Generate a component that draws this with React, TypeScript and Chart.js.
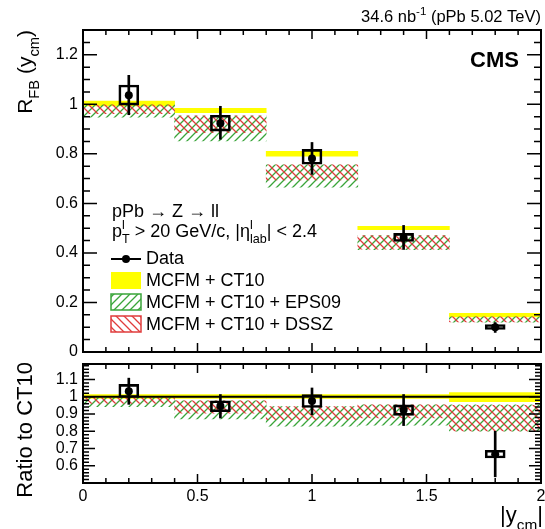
import React, { useEffect, useRef } from "react";
import { Chart, registerables } from "chart.js";
Chart.register(...registerables);

const FAMILY = "'Liberation Sans', Arial, Helvetica, sans-serif";
Chart.defaults.font.family = FAMILY;

// ---------------- data ----------------
const binCenters = [0.2, 0.6, 1.0, 1.4, 1.8];

// upper panel: R_FB
const rfbData = [1.037, 0.924, 0.781, 0.461, 0.1];
const rfbStatLo = [0.958, 0.859, 0.717, 0.414, 0.079];
const rfbStatHi = [1.117, 0.992, 0.846, 0.511, 0.119];
const rfbSysLo = [0.997, 0.892, 0.758, 0.446, 0.091];
const rfbSysHi = [1.078, 0.956, 0.818, 0.479, 0.111];
const ct10Lo = [0.993, 0.966, 0.791, 0.494, 0.142];
const ct10Hi = [1.013, 0.984, 0.81, 0.507, 0.156];
const eps09Lo = [0.948, 0.852, 0.665, 0.413, 0.12];
const eps09Hi = [0.998, 0.953, 0.756, 0.47, 0.142];
const dsszLo = [0.962, 0.885, 0.695, 0.415, 0.121];
const dsszHi = [0.998, 0.953, 0.756, 0.47, 0.142];

// lower panel: ratio to CT10
const ratioData = [1.032, 0.947, 0.976, 0.924, 0.667];
const ratioStatLo = [0.956, 0.877, 0.896, 0.833, 0.536];
const ratioStatHi = [1.108, 1.013, 1.051, 1.013, 0.8];
const ratioSysLo = [0.996, 0.913, 0.938, 0.892, 0.645];
const ratioSysHi = [1.072, 0.977, 1.013, 0.953, 0.69];
const ratioCt10Lo = [0.99, 0.99, 0.99, 0.99, 0.972];
const ratioCt10Hi = [1.012, 1.012, 1.012, 1.012, 1.025];
const ratioEps09Lo = [0.943, 0.871, 0.829, 0.835, 0.8];
const ratioEps09Hi = [0.994, 0.976, 0.943, 0.953, 0.953];
const ratioDsszLo = [0.962, 0.905, 0.867, 0.877, 0.802];
const ratioDsszHi = [0.994, 0.976, 0.943, 0.953, 0.95];
const ratioRef = 1;

// ticks
const xTicks = [0, 0.5, 1, 1.5, 2];
const topYTicks = [0, 0.2, 0.4, 0.6, 0.8, 1, 1.2];
const ratioYTicks = [0.6, 0.7, 0.8, 0.9, 1, 1.1];

const X_MIN = 0, X_MAX = 2;
const TOP_Y_MIN = 0, TOP_Y_MAX = 1.3;
const BOT_Y_MIN = 0.5, BOT_Y_MAX = 1.19;

// ---------------- styles ----------------
const YELLOW = "#ffff00";
const GREEN = "#3aa53a";
const RED = "#e03c3c";

function hatch(color: string, dir: 1 | -1): CanvasPattern | string {
  const s = 8;
  const c = document.createElement("canvas");
  c.width = s;
  c.height = s;
  const g = c.getContext("2d");
  if (!g) return color;
  g.strokeStyle = color;
  g.lineWidth = 1.3;
  g.beginPath();
  if (dir === 1) {
    g.moveTo(0, s); g.lineTo(s, 0);
    g.moveTo(-s / 2, s / 2); g.lineTo(s / 2, -s / 2);
    g.moveTo(s / 2, s + s / 2); g.lineTo(s + s / 2, s / 2);
  } else {
    g.moveTo(0, 0); g.lineTo(s, s);
    g.moveTo(-s / 2, s / 2); g.lineTo(s / 2, s + s / 2);
    g.moveTo(s / 2, -s / 2); g.lineTo(s + s / 2, s / 2);
  }
  g.stroke();
  return g.createPattern(c, "repeat") || color;
}

type Seg = { t: string; k?: "sub" | "sup"; hold?: boolean };

function drawRich(
  ctx: CanvasRenderingContext2D,
  x: number,
  y: number,
  segs: Seg[],
  size: number,
  align: "left" | "right" = "left",
  weight = "normal"
) {
  const fnt = (s: number) => `${weight} ${s}px ${FAMILY}`;
  const widths = segs.map((sg) => {
    ctx.font = fnt(sg.k ? size * 0.7 : size);
    return ctx.measureText(sg.t).width;
  });
  let cx = 0;
  let holdW = -1;
  const xs: number[] = [];
  segs.forEach((sg, i) => {
    xs.push(cx);
    if (sg.hold) holdW = widths[i];
    else if (holdW >= 0) {
      cx += Math.max(holdW, widths[i]);
      holdW = -1;
    } else cx += widths[i];
  });
  const x0 = align === "right" ? x - cx : x;
  ctx.textAlign = "left";
  ctx.textBaseline = "alphabetic";
  ctx.fillStyle = "#000";
  segs.forEach((sg, i) => {
    const s = sg.k ? size * 0.7 : size;
    ctx.font = fnt(s);
    const dy = sg.k === "sub" ? size * 0.35 : sg.k === "sup" ? -size * 0.42 : 0;
    ctx.fillText(sg.t, x0 + xs[i], y + dy);
  });
}

type FrameCfg = {
  xMajor: number; xMinor: number; yMajor: number; yMinor: number;
  xLenMaj: number; xLenMin: number; yLenMaj: number; yLenMin: number;
};

function framePlugin(id: string, cfg: FrameCfg) {
  return {
    id,
    afterDatasetsDraw(chart: any) {
      const { ctx, chartArea: a, scales } = chart;
      const xs = scales.x, ys = scales.y;
      ctx.save();
      ctx.strokeStyle = "#000";
      ctx.lineWidth = 1.5;
      ctx.beginPath();
      const isMaj = (v: number, m: number) => Math.abs(v / m - Math.round(v / m)) < 1e-6;
      const nx = Math.round((xs.max - xs.min) / cfg.xMinor);
      for (let i = 0; i <= nx; i++) {
        const v = xs.min + i * cfg.xMinor;
        const px = xs.getPixelForValue(v);
        const L = isMaj(v, cfg.xMajor) ? cfg.xLenMaj : cfg.xLenMin;
        ctx.moveTo(px, a.bottom); ctx.lineTo(px, a.bottom - L);
        ctx.moveTo(px, a.top); ctx.lineTo(px, a.top + L);
      }
      const start = Math.ceil(ys.min / cfg.yMinor - 1e-6) * cfg.yMinor;
      for (let v = start; v <= ys.max + 1e-9; v += cfg.yMinor) {
        const py = ys.getPixelForValue(v);
        const L = isMaj(v, cfg.yMajor) ? cfg.yLenMaj : cfg.yLenMin;
        ctx.moveTo(a.left, py); ctx.lineTo(a.left + L, py);
        ctx.moveTo(a.right, py); ctx.lineTo(a.right - L, py);
      }
      ctx.stroke();
      ctx.lineWidth = 2;
      ctx.strokeRect(a.left, a.top, a.right - a.left, a.bottom - a.top);
      ctx.restore();
    },
  };
}

const bandData = (lo: number[], hi: number[]) =>
  binCenters.map((x, i) => ({ x, y: [lo[i], hi[i]] }));
const pointData = (v: number[]) => binCenters.map((x, i) => ({ x, y: v[i] }));

function datasets(
  p: {
    data: number[]; statLo: number[]; statHi: number[]; sysLo: number[]; sysHi: number[];
    ctLo: number[]; ctHi: number[]; epLo: number[]; epHi: number[]; dsLo: number[]; dsHi: number[];
  },
  green: any,
  red: any,
  refLine: boolean
) {
  const bandCommon = {
    type: "bar" as const,
    grouped: false,
    categoryPercentage: 1,
    barPercentage: 1,
    borderWidth: 0,
  };
  const ds: any[] = [
    { ...bandCommon, label: "MCFM + CT10", data: bandData(p.ctLo, p.ctHi), backgroundColor: YELLOW, order: 10 },
    { ...bandCommon, label: "MCFM + CT10 + EPS09", data: bandData(p.epLo, p.epHi), backgroundColor: green, order: 9 },
    { ...bandCommon, label: "MCFM + CT10 + DSSZ", data: bandData(p.dsLo, p.dsHi), backgroundColor: red, order: 8 },
    {
      type: "bar", label: "sys", grouped: false, barThickness: 20,
      data: bandData(p.sysLo, p.sysHi), backgroundColor: "rgba(0,0,0,0)",
      borderColor: "#000", borderWidth: 2, borderSkipped: false, order: 3,
    },
    {
      type: "bar", label: "stat", grouped: false, barThickness: 2,
      data: bandData(p.statLo, p.statHi), backgroundColor: "#000", borderWidth: 0, order: 2,
    },
    {
      type: "scatter", label: "Data", data: pointData(p.data),
      pointRadius: 4, pointBackgroundColor: "#000", pointBorderWidth: 0, order: 1,
    },
  ];
  if (refLine) {
    ds.push({
      type: "line", label: "ref",
      data: [{ x: X_MIN, y: ratioRef }, { x: X_MAX, y: ratioRef }],
      borderColor: "#000", borderWidth: 2, pointRadius: 0, order: 6,
    });
  }
  return ds;
}

function xScale(showLabels: boolean, height: number) {
  return {
    type: "linear",
    min: X_MIN,
    max: X_MAX,
    offset: false,
    grid: { display: false, drawTicks: false },
    border: { display: false },
    afterBuildTicks: (s: any) => {
      s.ticks = xTicks.map((v) => ({ value: v }));
    },
    ticks: {
      display: showLabels,
      autoSkip: false,
      maxRotation: 0,
      padding: 4,
      color: "#000",
      font: { size: 16 },
      callback: (v: any) => String(v),
    },
    afterFit: (s: any) => {
      s.height = height;
      s.paddingLeft = 0;
      s.paddingRight = 0;
    },
  };
}

function yScale(min: number, max: number, ticks: number[]) {
  return {
    type: "linear",
    min,
    max,
    grid: { display: false, drawTicks: false },
    border: { display: false },
    afterBuildTicks: (s: any) => {
      s.ticks = ticks.map((v) => ({ value: v }));
    },
    ticks: {
      autoSkip: false,
      padding: 5,
      color: "#000",
      font: { size: 16 },
      callback: (v: any) => String(v),
    },
    afterFit: (s: any) => {
      s.width = 83;
      s.paddingTop = 0;
      s.paddingBottom = 0;
    },
  };
}

const topTextPlugin = {
  id: "topText",
  afterDraw(chart: any) {
    const ctx: CanvasRenderingContext2D = chart.ctx;
    ctx.save();
    drawRich(ctx, 541, 22, [{ t: "34.6 nb" }, { t: "-1", k: "sup" }, { t: " (pPb 5.02 TeV)" }], 16.5, "right");
    drawRich(ctx, 519, 67, [{ t: "CMS" }], 22, "right", "bold");
    // y title
    ctx.save();
    ctx.translate(32, 30);
    ctx.rotate(-Math.PI / 2);
    drawRich(ctx, 0, 0, [{ t: "R" }, { t: "FB", k: "sub" }, { t: " (y" }, { t: "cm", k: "sub" }, { t: ")" }], 21, "right");
    ctx.restore();
    // legend
    const fs = 18;
    drawRich(ctx, 112, 217, [{ t: "pPb \u2192 Z \u2192 ll" }], fs);
    drawRich(
      ctx, 112, 237,
      [
        { t: "p" }, { t: "l", k: "sup", hold: true }, { t: "T", k: "sub" },
        { t: " > 20 GeV/c, |\u03b7" }, { t: "l", k: "sup", hold: true }, { t: "lab", k: "sub" },
        { t: "| < 2.4" },
      ],
      fs
    );
    // Data symbol
    ctx.strokeStyle = "#000";
    ctx.lineWidth = 2;
    ctx.beginPath();
    ctx.moveTo(111, 259);
    ctx.lineTo(141, 259);
    ctx.stroke();
    ctx.fillStyle = "#000";
    ctx.beginPath();
    ctx.arc(126, 259, 4, 0, Math.PI * 2);
    ctx.fill();
    drawRich(ctx, 146, 264, [{ t: "Data" }], fs);
    // CT10
    ctx.fillStyle = YELLOW;
    ctx.fillRect(111, 272, 30, 17);
    drawRich(ctx, 146, 286, [{ t: "MCFM + CT10" }], fs);
    // EPS09
    ctx.fillStyle = chart.$green;
    ctx.fillRect(111, 294, 30, 16);
    ctx.strokeStyle = GREEN;
    ctx.lineWidth = 1.5;
    ctx.strokeRect(111, 294, 30, 16);
    drawRich(ctx, 146, 308, [{ t: "MCFM + CT10 + EPS09" }], fs);
    // DSSZ
    ctx.fillStyle = chart.$red;
    ctx.fillRect(111, 316, 30, 16);
    ctx.strokeStyle = RED;
    ctx.strokeRect(111, 316, 30, 16);
    drawRich(ctx, 146, 330, [{ t: "MCFM + CT10 + DSSZ" }], fs);
    ctx.restore();
  },
};

const botTextPlugin = {
  id: "botText",
  afterDraw(chart: any) {
    const ctx: CanvasRenderingContext2D = chart.ctx;
    ctx.save();
    ctx.save();
    ctx.translate(32, 2);
    ctx.rotate(-Math.PI / 2);
    drawRich(ctx, 0, 0, [{ t: "Ratio to CT10" }], 22, "right");
    ctx.restore();
    drawRich(ctx, 543, 162, [{ t: "|y" }, { t: "cm", k: "sub" }, { t: "|" }], 22, "right");
    ctx.restore();
  },
};

export default function App() {
  const topRef = useRef<HTMLCanvasElement>(null);
  const botRef = useRef<HTMLCanvasElement>(null);

  useEffect(() => {
    const green = hatch(GREEN, 1);
    const red = hatch(RED, -1);
    const common = {
      responsive: false,
      animation: false,
      events: [],
      plugins: { legend: { display: false }, tooltip: { enabled: false } },
    };
    const top = new Chart(topRef.current as HTMLCanvasElement, {
      type: "bar",
      data: {
        datasets: datasets(
          {
            data: rfbData, statLo: rfbStatLo, statHi: rfbStatHi, sysLo: rfbSysLo, sysHi: rfbSysHi,
            ctLo: ct10Lo, ctHi: ct10Hi, epLo: eps09Lo, epHi: eps09Hi, dsLo: dsszLo, dsHi: dsszHi,
          },
          green, red, false
        ),
      },
      options: {
        ...common,
        layout: { padding: { top: 30, right: 2, left: 0, bottom: 0 } },
        scales: {
          x: xScale(false, 8),
          y: yScale(TOP_Y_MIN, TOP_Y_MAX, topYTicks),
        },
      } as any,
      plugins: [
        framePlugin("frameTop", {
          xMajor: 0.5, xMinor: 0.1, yMajor: 0.2, yMinor: 0.05,
          xLenMaj: 9, xLenMin: 5, yLenMaj: 14, yLenMin: 7,
        }),
        topTextPlugin,
      ],
    } as any);
    (top as any).$green = green;
    (top as any).$red = red;
    top.draw();

    const bot = new Chart(botRef.current as HTMLCanvasElement, {
      type: "bar",
      data: {
        datasets: datasets(
          {
            data: ratioData, statLo: ratioStatLo, statHi: ratioStatHi, sysLo: ratioSysLo, sysHi: ratioSysHi,
            ctLo: ratioCt10Lo, ctHi: ratioCt10Hi, epLo: ratioEps09Lo, epHi: ratioEps09Hi,
            dsLo: ratioDsszLo, dsHi: ratioDsszHi,
          },
          green, red, true
        ),
      },
      options: {
        ...common,
        layout: { padding: { top: 2, right: 2, left: 0, bottom: 0 } },
        scales: {
          x: xScale(true, 46),
          y: yScale(BOT_Y_MIN, BOT_Y_MAX, ratioYTicks),
        },
      } as any,
      plugins: [
        framePlugin("frameBot", {
          xMajor: 0.5, xMinor: 0.1, yMajor: 0.1, yMinor: 0.02,
          xLenMaj: 9, xLenMin: 5, yLenMaj: 12, yLenMin: 6,
        }),
        botTextPlugin,
      ],
    } as any);

    return () => {
      top.destroy();
      bot.destroy();
    };
  }, []);

  return (
    <div style={{ position: "absolute", left: 0, top: 0, width: 545, height: 529, background: "#fff" }}>
      <canvas
        ref={topRef}
        width={545}
        height={360}
        style={{ position: "absolute", left: 0, top: 0, width: 545, height: 360 }}
      />
      <canvas
        ref={botRef}
        width={545}
        height={169}
        style={{ position: "absolute", left: 0, top: 360, width: 545, height: 169 }}
      />
    </div>
  );
}
